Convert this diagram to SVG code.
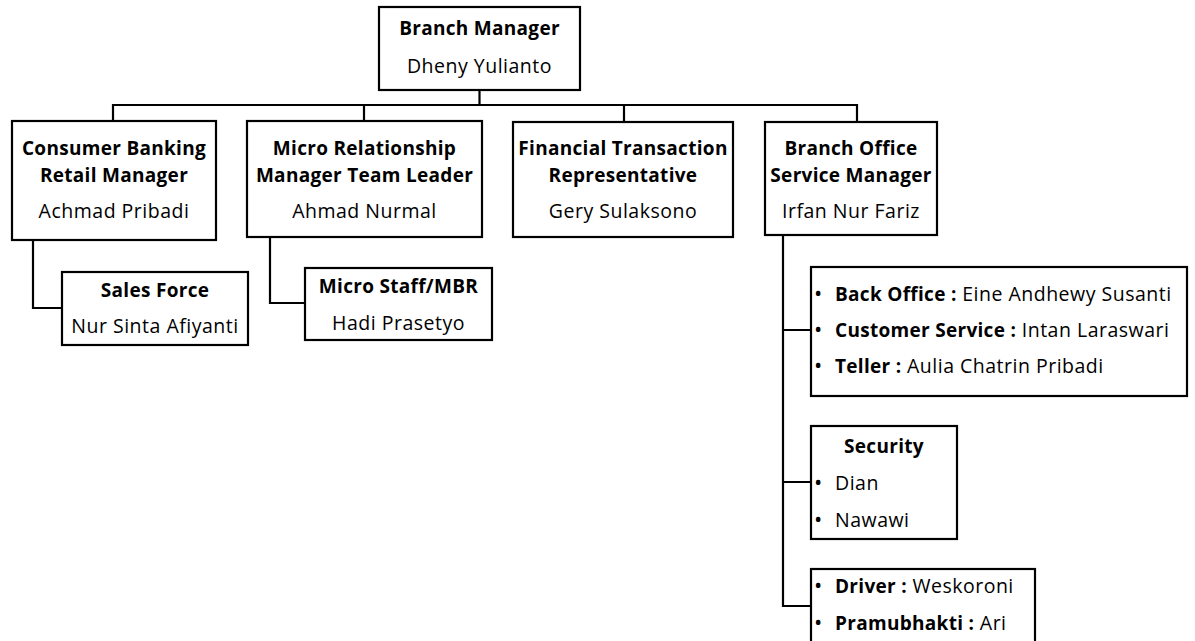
<svg xmlns="http://www.w3.org/2000/svg" width="1195" height="641" viewBox="0 0 1195 641">
<style>
.box{fill:#fff;stroke:#000;stroke-width:2.2}
.ln{fill:none;stroke:#000;stroke-width:2.2}
text{font-family:"Open Sans","Noto Sans",sans-serif;font-size:19.5px;letter-spacing:0.5px;fill:#000}
.c{text-anchor:middle}
.b{font-weight:bold;font-size:19px;letter-spacing:0.3px}
.d{font-size:22px;letter-spacing:0}
</style>
<rect width="1195" height="641" fill="#fff"/>
<g id="connectors">
<path class="ln" d="M479.5,90 V105 M113,121 V105 H857 V122 M364,105 V121 M624,105 V122"/>
<path class="ln" d="M33,240 V308 H62"/>
<path class="ln" d="M270,237 V303 H305"/>
<path class="ln" d="M783,235 V606 H811 M783,330 H811 M783,482 H811"/>
</g>
<g id="branch-manager">
<rect class="box" x="379" y="7" width="201" height="83"/>
<text class="c b" x="479.5" y="35">Branch Manager</text>
<text class="c" x="479.5" y="73">Dheny Yulianto</text>
</g>
<g id="consumer-banking">
<rect class="box" x="12" y="121" width="204" height="119"/>
<text class="c b" x="114" y="155">Consumer Banking</text>
<text class="c b" x="114" y="182">Retail Manager</text>
<text class="c" x="114" y="218">Achmad Pribadi</text>
</g>
<g id="micro-relationship">
<rect class="box" x="247" y="121" width="235" height="116"/>
<text class="c b" x="364.5" y="155">Micro Relationship</text>
<text class="c b" x="364.5" y="182">Manager Team Leader</text>
<text class="c" x="364.5" y="218">Ahmad Nurmal</text>
</g>
<g id="financial-transaction">
<rect class="box" x="513" y="122" width="220" height="115"/>
<text class="c b" x="623" y="155">Financial Transaction</text>
<text class="c b" x="623" y="182">Representative</text>
<text class="c" x="623" y="218">Gery Sulaksono</text>
</g>
<g id="branch-office">
<rect class="box" x="765" y="122" width="172" height="113"/>
<text class="c b" x="851" y="155">Branch Office</text>
<text class="c b" x="851" y="182">Service Manager</text>
<text class="c" x="851" y="218">Irfan Nur Fariz</text>
</g>
<g id="sales-force">
<rect class="box" x="62" y="272" width="186" height="73"/>
<text class="c b" x="155" y="297">Sales Force</text>
<text class="c" x="155" y="333">Nur Sinta Afiyanti</text>
</g>
<g id="micro-staff">
<rect class="box" x="305" y="268" width="187" height="72"/>
<text class="c b" x="398.5" y="293">Micro Staff/MBR</text>
<text class="c" x="398.5" y="330">Hadi Prasetyo</text>
</g>
<g id="back-office">
<rect class="box" x="811" y="267" width="376" height="129"/>
<text x="814" y="301"><tspan class="d">•</tspan><tspan class="b" x="835">Back Office :</tspan> Eine Andhewy Susanti</text>
<text x="814" y="337"><tspan class="d">•</tspan><tspan class="b" x="835">Customer Service :</tspan> Intan Laraswari</text>
<text x="814" y="373"><tspan class="d">•</tspan><tspan class="b" x="835">Teller :</tspan> Aulia Chatrin Pribadi</text>
</g>
<g id="security">
<rect class="box" x="811" y="426" width="146" height="113"/>
<text class="c b" x="884" y="453">Security</text>
<text x="814" y="490"><tspan class="d">•</tspan><tspan x="835">Dian</tspan></text>
<text x="814" y="527"><tspan class="d">•</tspan><tspan x="835">Nawawi</tspan></text>
</g>
<g id="driver">
<rect class="box" x="811" y="569" width="224" height="80"/>
<text x="814" y="593"><tspan class="d">•</tspan><tspan class="b" x="835">Driver :</tspan> Weskoroni</text>
<text x="814" y="630"><tspan class="d">•</tspan><tspan class="b" x="835">Pramubhakti :</tspan> Ari</text>
</g>
</svg>
